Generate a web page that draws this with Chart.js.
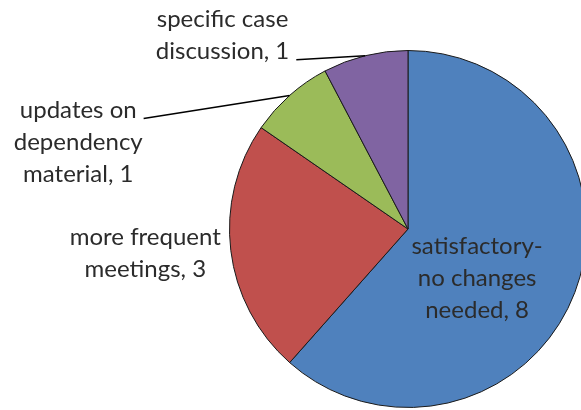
<!DOCTYPE html>
<html>
<head>
<meta charset="utf-8">
<script src="https://cdn.jsdelivr.net/npm/chart.js@4"></script>
<style>
  html, body { margin: 0; padding: 0; background: #fff; overflow: hidden; }
  #wrap { width: 590px; height: 410px; }
</style>
</head>
<body>
<div id="wrap"><canvas id="pie" width="590" height="410"></canvas></div>
<script>
// categorie (righe dell'etichetta) e valori
const categories = [
  ["satisfactory-", "no changes", "needed"],
  ["more frequent", "meetings"],
  ["updates on", "dependency", "material"],
  ["specific case", "discussion"]
];
const values = [8, 3, 1, 1];
const colors = ["#4F81BD", "#C0504D", "#9BBB59", "#8064A2"];

const FONT = "24px Lato";
const TEXT = "#2b2b2b";
const LINE_H = 32;

// come Excel: dentro, fuori, fuori con linea guida
const labelLayout = [
  { mode: "inside", r: 0.45, dx: -6, dy: 21 },
  { mode: "outside", gap: 10, dy: 3 },
  { mode: "leader", dx: -146, dy: 23, attach: "first" },
  { mode: "leader", dx: -69, dy: 4, attach: "last" }
];

const labelPlugin = {
  id: "pieLabels",
  afterDatasetsDraw(chart) {
    const ctx = chart.ctx;
    const meta = chart.getDatasetMeta(0);
    ctx.save();
    ctx.font = FONT;
    ctx.fillStyle = TEXT;
    ctx.textAlign = "center";
    ctx.textBaseline = "middle";
    meta.data.forEach((arc, i) => {
      const lines = categories[i].slice();
      lines[lines.length - 1] += ", " + values[i];
      const lay = labelLayout[i];
      const mid = (arc.startAngle + arc.endAngle) / 2;
      const r = arc.outerRadius;
      const ex = arc.x + Math.cos(mid) * r;
      const ey = arc.y + Math.sin(mid) * r;
      const widths = lines.map(l => ctx.measureText(l).width);
      const maxW = Math.max(...widths);
      const blockH = (lines.length - 1) * LINE_H;
      let cx, cy;
      if (lay.mode === "inside") {
        cx = arc.x + Math.cos(mid) * r * lay.r + lay.dx;
        cy = arc.y + Math.sin(mid) * r * lay.r + lay.dy;
      } else if (lay.mode === "outside") {
        cx = ex - lay.gap - maxW / 2;
        cy = ey + lay.dy;
      } else {
        const lx = ex + lay.dx, ly = ey + lay.dy;
        ctx.strokeStyle = "#000";
        ctx.lineWidth = 1.5;
        ctx.beginPath();
        ctx.moveTo(ex, ey);
        ctx.lineTo(lx, ly);
        ctx.stroke();
        const k = lay.attach === "first" ? 0 : lines.length - 1;
        cx = lx - 7 - widths[k] / 2;
        cy = ly - 8 - (k * LINE_H - blockH / 2);
      }
      lines.forEach((l, j) => {
        ctx.fillText(l, cx, cy - blockH / 2 + j * LINE_H);
      });
    });
    ctx.restore();
  }
};

new Chart(document.getElementById("pie"), {
  type: "pie",
  data: {
    labels: categories.map(c => c.join(" ")),
    datasets: [{
      data: values,
      backgroundColor: colors,
      borderColor: "#1a1a1a",
      borderWidth: 1
    }]
  },
  options: {
    responsive: false,
    animation: false,
    layout: { padding: { left: 229, right: 3, top: 50, bottom: 2 } },
    plugins: {
      legend: { display: false },
      tooltip: { enabled: false }
    }
  },
  plugins: [labelPlugin]
});
</script>
</body>
</html>
